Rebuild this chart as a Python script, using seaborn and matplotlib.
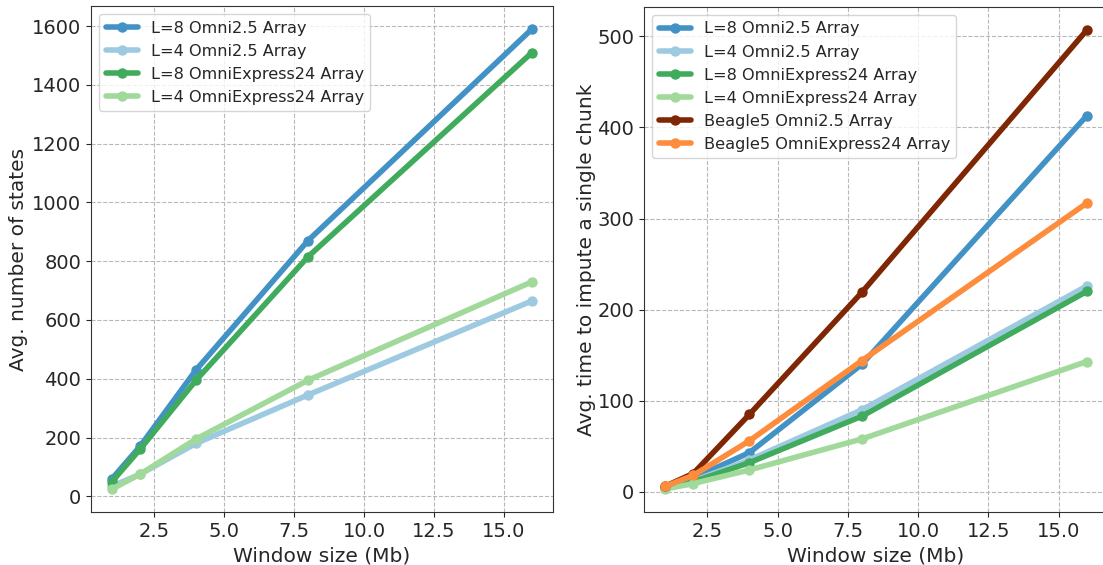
import pandas as pd
import numpy as np
import matplotlib
matplotlib.use('Agg')
import matplotlib.pyplot as plt
import seaborn as sns

# Window sizes (Mb)
window_mb = [1, 2, 4, 8, 16]

# Left panel: average number of states
states_l8_omni25 = [60, 170, 430, 870, 1590]
states_l4_omni25 = [35, 75, 180, 345, 665]
states_l8_omniexp = [50, 160, 395, 815, 1510]
states_l4_omniexp = [25, 75, 195, 395, 730]

# Right panel: average time to impute a single chunk
time_l8_omni25 = [5, 15, 43, 140, 413]
time_l4_omni25 = [4, 12, 35, 90, 226]
time_l8_omniexp = [4, 11, 32, 83, 220]
time_l4_omniexp = [3, 9, 24, 58, 143]
time_beagle_omni25 = [6, 20, 85, 219, 507]
time_beagle_omniexp = [6, 18, 56, 144, 317]

labels = ['L=8 Omni2.5 Array', 'L=4 Omni2.5 Array',
          'L=8 OmniExpress24 Array', 'L=4 OmniExpress24 Array',
          'Beagle5 Omni2.5 Array', 'Beagle5 OmniExpress24 Array']
colors = ['#4292c6', '#9ecae1', '#41ab5d', '#a1d99b', '#7f2704', '#fd8d3c']

sns.set_style('ticks', {'axes.grid': True, 'grid.linestyle': '--',
                        'grid.color': '#b8b8b8', 'axes.edgecolor': '#333333'})
plt.rcParams['font.family'] = ['DejaVu Sans']

left_series = [states_l8_omni25, states_l4_omni25, states_l8_omniexp, states_l4_omniexp]
right_series = [time_l8_omni25, time_l4_omni25, time_l8_omniexp, time_l4_omniexp,
                time_beagle_omni25, time_beagle_omniexp]

W, H = 1103, 565
fig = plt.figure(figsize=(W / 100, H / 100), dpi=100)
# axes boxes in pixels: left, top, right, bottom
ax1 = fig.add_axes([91 / W, (H - 512) / H, (553 - 91) / W, (512 - 6) / H])
ax2 = fig.add_axes([644 / W, (H - 512) / H, (1108 - 644) / W, (512 - 7) / H])

for ax, series, ylabel in [(ax1, left_series, 'Avg. number of states'),
                           (ax2, right_series, 'Avg. time to impute a single chunk')]:
    for vals, lab, col in zip(series, labels, colors):
        sns.lineplot(x=window_mb, y=vals, ax=ax, color=col, label=lab,
                     linewidth=4, marker='o', markersize=7.5, markeredgewidth=0)
    ax.set_xlabel('Window size (Mb)', fontsize=14.5)
    ax.tick_params(labelsize=14)
    ax.legend(loc='upper left', fontsize=11.6, frameon=True)
    ax.grid(True, linestyle='--', color='#b8b8b8', linewidth=0.8)

ax1.set_ylabel('Avg. number of states', fontsize=14.5, labelpad=3)
ax2.set_ylabel('Avg. time to impute a single chunk', fontsize=14.5, labelpad=1)
ax1.set_yticks(range(0, 1601, 200))
ax2.set_yticks(range(0, 501, 100))

plt.savefig('out.png', dpi=100)
plt.close('all')
